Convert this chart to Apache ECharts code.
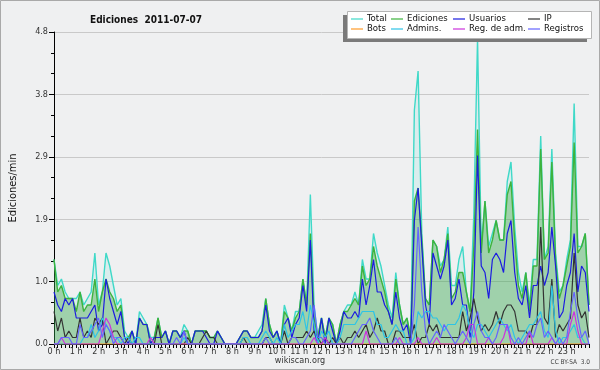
<!DOCTYPE html>
<html><head><meta charset="utf-8">
<script src="https://cdn.jsdelivr.net/npm/echarts@6/dist/echarts.min.js"></script>
<style>html,body{margin:0;padding:0;background:#eff0f1}#c{width:600px;height:370px}</style>
</head><body><div id="c"></div>
<script>
// ---- data (edits per minute, 10-minute buckets from 00:00 to 24:00) ----
const hourLabels = ['0 h','1 h','2 h','3 h','4 h','5 h','6 h','7 h','8 h','9 h','10 h','11 h','12 h','13 h','14 h','15 h','16 h','17 h','18 h','19 h','20 h','21 h','22 h','23 h'];
const seriesNames = ['Total','Ediciones','Usuarios','IP','Bots','Admins.','Reg. de adm.','Registros'];

const total = [
 1.3,0.9,1.0,0.8,0.7,0.7, 0.7,0.8,0.6,0.7,0.8,1.4, 0.6,0.8,1.4,1.2,0.9,0.6, 0.7,0.2,0.1,0.2,0.0,0.5,
 0.4,0.3,0.1,0.1,0.4,0.1, 0.2,0.0,0.2,0.2,0.1,0.3, 0.2,0.0,0.2,0.2,0.2,0.2, 0.1,0.1,0.2,0.1,0.0,0.0,
 0.0,0.0,0.1,0.2,0.2,0.1, 0.1,0.2,0.3,0.7,0.3,0.1, 0.2,0.0,0.6,0.4,0.2,0.5, 0.5,1.0,0.6,2.3,0.6,0.1,
 0.4,0.1,0.4,0.3,0.0,0.3, 0.5,0.6,0.6,0.8,0.6,1.3, 1.0,1.0,1.7,1.4,1.2,0.9, 0.6,0.4,1.1,0.6,0.3,0.4,
 0.1,3.6,4.2,1.7,0.7,0.6, 1.6,1.5,1.2,1.3,1.8,0.9, 0.9,1.3,1.5,0.8,0.5,2.0, 4.7,1.5,2.2,1.5,1.7,1.9,
 1.6,1.6,2.5,2.8,1.8,1.1, 0.8,1.1,0.6,1.3,1.3,3.2, 1.3,1.5,3.0,1.4,0.8,0.9, 1.3,1.6,3.7,1.5,1.5,1.7,
 0.6];
const ediciones = [
 1.3,0.8,0.9,0.7,0.7,0.7, 0.5,0.8,0.5,0.6,0.6,1.0, 0.5,0.8,1.0,0.8,0.7,0.5, 0.6,0.1,0.1,0.2,0.0,0.4,
 0.3,0.3,0.0,0.1,0.4,0.1, 0.2,0.0,0.2,0.2,0.1,0.2, 0.2,0.0,0.2,0.2,0.2,0.2, 0.1,0.1,0.2,0.1,0.0,0.0,
 0.0,0.0,0.1,0.2,0.2,0.1, 0.1,0.1,0.2,0.7,0.3,0.1, 0.2,0.0,0.5,0.4,0.2,0.4, 0.5,1.0,0.6,1.7,0.4,0.1,
 0.4,0.1,0.4,0.3,0.0,0.3, 0.5,0.5,0.6,0.7,0.6,1.2, 0.9,1.0,1.5,1.2,1.0,0.8, 0.5,0.3,1.0,0.6,0.3,0.4,
 0.1,2.2,2.4,1.6,0.7,0.6, 1.6,1.5,1.1,1.3,1.7,0.7, 0.8,1.1,1.1,0.8,0.5,1.5, 3.3,1.4,2.2,1.4,1.6,1.9,
 1.6,1.6,2.3,2.5,1.6,0.9, 0.7,1.1,0.5,1.2,1.2,3.0, 1.3,1.4,2.8,1.3,0.7,0.9, 1.2,1.5,3.1,1.4,1.5,1.7,
 0.6];
const usuarios = [
 0.8,0.6,0.5,0.7,0.6,0.7, 0.4,0.4,0.4,0.4,0.5,0.6, 0.2,0.3,1.0,0.7,0.5,0.3, 0.5,0.1,0.0,0.2,0.0,0.4,
 0.3,0.3,0.0,0.1,0.1,0.1, 0.2,0.0,0.2,0.2,0.1,0.2, 0.0,0.0,0.2,0.2,0.2,0.1, 0.0,0.0,0.2,0.1,0.0,0.0,
 0.0,0.0,0.1,0.2,0.2,0.1, 0.1,0.1,0.2,0.6,0.2,0.1, 0.2,0.0,0.3,0.4,0.1,0.3, 0.4,0.9,0.5,1.6,0.2,0.0,
 0.4,0.0,0.4,0.2,0.0,0.2, 0.5,0.4,0.4,0.5,0.4,1.0, 0.6,0.9,1.3,0.8,0.8,0.6, 0.5,0.3,0.8,0.4,0.2,0.3,
 0.0,1.9,2.4,1.5,0.6,0.3, 1.4,1.2,1.0,1.2,1.6,0.6, 0.7,1.0,0.6,0.6,0.1,0.8, 2.9,1.2,1.1,0.7,1.3,1.4,
 1.3,1.1,1.7,1.9,1.1,0.7, 0.6,0.9,0.4,0.9,0.9,1.2, 0.9,1.1,1.8,1.2,0.4,0.5, 0.9,1.1,1.7,0.8,1.2,1.1,
 0.5];
const ip = [
 0.5,0.2,0.4,0.1,0.2,0.1, 0.1,0.4,0.1,0.2,0.1,0.4, 0.3,0.4,0.0,0.1,0.2,0.2, 0.1,0.0,0.1,0.0,0.0,0.0,
 0.0,0.0,0.0,0.0,0.3,0.0, 0.0,0.0,0.0,0.0,0.0,0.0, 0.1,0.0,0.0,0.0,0.1,0.2, 0.1,0.1,0.0,0.0,0.0,0.0,
 0.0,0.0,0.0,0.1,0.0,0.0, 0.0,0.0,0.0,0.1,0.1,0.0, 0.0,0.0,0.2,0.0,0.1,0.1, 0.1,0.1,0.2,0.1,0.2,0.1,
 0.0,0.1,0.0,0.1,0.0,0.1, 0.0,0.1,0.1,0.2,0.1,0.2, 0.3,0.1,0.2,0.4,0.2,0.2, 0.0,0.0,0.2,0.2,0.1,0.1,
 0.1,0.3,0.0,0.1,0.1,0.3, 0.2,0.3,0.1,0.1,0.1,0.1, 0.1,0.1,0.5,0.2,0.4,0.7, 0.4,0.2,0.3,0.2,0.3,0.5,
 0.3,0.5,0.6,0.6,0.5,0.2, 0.2,0.2,0.1,0.3,0.3,1.8, 0.4,0.3,1.0,0.1,0.3,0.2, 0.3,0.4,1.4,0.6,0.4,0.5,
 0.1];
const bots = [
 0,0,0,0,0,0, 0,0,0,0,0,0, 0,0,0,0,0,0, 0,0,0,0,0,0,
 0,0,0,0,0,0, 0,0,0,0,0,0, 0,0,0,0,0,0, 0,0,0,0,0,0,
 0,0,0,0,0,0, 0,0,0,0,0,0, 0,0,0,0,0,0, 0,0,0,0,0,0,
 0,0,0,0,0,0, 0,0,0,0,0,0, 0,0,0,0,0,0, 0,0,0,0,0,0,
 0,0,0,0,0,0, 0,0,0,0,0,0, 0,0,0,0,0,0, 0,0,0,0,0,0,
 0,0,0,0,0,0, 0,0,0,0,0,0, 0,0,0,0,0,0, 0,0,0,0,0,0,
 0];
const admins = [
 0,0,0,0,0,0, 0,0,0.1,0.1,0.3,0.1, 0.2,0.4,0.3,0.2,0.1,0.1, 0,0.1,0.1,0,0.1,0.1,
 0,0,0,0,0,0, 0,0,0,0,0,0.1, 0,0,0,0,0,0, 0,0,0,0,0,0,
 0,0,0,0.1,0.1,0, 0,0,0.1,0.2,0.1,0, 0.1,0,0.3,0.1,0.2,0.3, 0.3,0.5,0.2,0.6,0.3,0,
 0.2,0.1,0.2,0,0,0.1, 0.3,0.3,0.3,0.3,0.4,0.5, 0.5,0.5,0.5,0.3,0.3,0.1, 0.1,0.2,0.3,0.2,0.2,0,
 0,0.1,0.5,0.4,0.5,0.5, 0.4,0.4,0.3,0.2,0.3,0.3, 0.3,0.4,0.6,0.5,0.2,0.1, 0.3,0.3,0.2,0.1,0.2,0.3,
 0.4,0.3,0.2,0.3,0.1,0, 0.1,0.2,0.3,0.3,0.4,0.5, 0.2,0.1,0.9,0.2,0,0.1, 0.1,0.2,0.3,0.1,0.1,0,
 0];
const regAdm = [
 0,0,0.1,0,0,0, 0,0,0,0,0,0, 0,0.2,0.4,0.3,0.1,0, 0,0,0,0,0,0,
 0,0,0.1,0,0,0, 0,0,0,0,0,0, 0,0,0,0,0,0, 0,0,0,0,0,0,
 0,0,0,0,0,0, 0,0,0,0,0,0, 0,0,0,0,0,0, 0,0,0,0,0.1,0,
 0,0.1,0,0,0,0, 0,0,0,0,0,0, 0.2,0,0,0,0,0, 0,0,0,0.1,0,0,
 0,0,0.1,0,0,0, 0,0.1,0,0,0,0, 0,0,0,0.1,0.3,0.3, 0,0,0,0.1,0,0,
 0,0.1,0.3,0,0,0, 0,0,0.2,0,0,0, 0,0,0.1,0,0,0, 0,0.3,0.5,0.2,0,0,
 0];
const registros = [
 0,0,0.1,0.1,0.1,0, 0,0.3,0.1,0.1,0.2,0.3, 0.4,0.1,0.3,0.2,0,0.1, 0.1,0,0,0,0,0,
 0,0,0,0,0,0, 0,0,0,0.1,0,0.2, 0,0,0,0,0,0, 0,0,0,0,0,0,
 0,0,0,0,0,0, 0,0,0,0.1,0,0, 0,0,0,0,0.1,0.1, 0,0,0.1,0.2,0.6,0.1,
 0.1,0,0,0,0,0, 0,0,0,0.1,0.2,0.3, 0.3,0.4,0.2,0.1,0,0, 0,0,0.1,0,0,0,
 0,0.6,1.8,0.8,0.2,0, 0.1,0.2,0.1,0.3,0.2,0.1, 0,0.1,0.2,0.1,0,0.3, 0.5,0.2,0.1,0.1,0,0.1,
 0.3,0.3,0.3,0.1,0,0.1, 0,0.1,0.2,0.1,0.3,0.4, 0.1,0.2,0.1,0,0.1,0, 0.1,0.5,0.8,0.4,0.1,0.2,
 0];

const seriesValues = [total, ediciones, usuarios, ip, bots, admins, regAdm, registros];
const colors = ['#3fd9c8','#3db33d','#1c1ce0','#333333','#ff9c2a','#2ec4e6','#cc33dd','#6464ff'];

// ---- chart ----
const FONT = 'DejaVu Sans Condensed, DejaVu Sans, sans-serif';
const chart = echarts.init(document.getElementById('c'), null, {renderer:'canvas'});
const stepHours = 1/6;
const series = seriesValues.map((vals, k) => ({
  name: seriesNames[k], type:'line', symbol:'none', animation:false,
  data: vals.map((v, i) => [i*stepHours, v]),
  lineStyle:{color:colors[k], width: k < 2 ? 1.4 : 1.2},
  itemStyle:{color:colors[k]},
  areaStyle: k === 0 ? {color:'rgba(64,224,208,0.16)', origin:'start'} :
             k === 1 ? {color:'rgba(50,160,50,0.5)', origin:'start'} : undefined,
  z: 2 + k
}));

const legendPos = [[351,14],[391,14],[453,14],[528,14],[351,24],[391,24],[453,24],[528,24]];
const legends = seriesNames.map((n, k) => ({
  left: legendPos[k][0], top: legendPos[k][1], data:[n], icon:'rect',
  itemWidth:12, itemHeight:1.2, padding:0, itemGap:0, selectedMode:false, z:20,
  textStyle:{fontSize:9.5, fontFamily:FONT, color:'#111', padding:[0,0,0,-1]}
}));

chart.setOption({
  backgroundColor:'#eff0f1',
  animation:false,
  title:{text:'Ediciones  2011-07-07', left:85, top:10,
    textStyle:{fontSize:10, fontWeight:'bold', fontFamily:FONT, color:'#111'}},
  legend: legends,
  grid:{left:44, right:11, top:32, bottom:26},
  xAxis:{type:'value', min:0, max:24, interval:1,
    axisLine:{lineStyle:{color:'#000', width:1}},
    axisTick:{length:4, lineStyle:{color:'#000'}},
    minorTick:{show:true, splitNumber:6, length:4, lineStyle:{color:'#000'}},
    splitLine:{show:false},
    axisLabel:{fontSize:9, fontFamily:FONT, color:'#333', margin:3,
      formatter: v => hourLabels[v] !== undefined ? hourLabels[v] : ''}},
  yAxis:{type:'value', min:0, max:4.8, interval:0.96,
    name:'Ediciones/min', nameLocation:'middle', nameGap:35,
    nameTextStyle:{fontSize:11, fontFamily:FONT, color:'#111'},
    axisLine:{show:true, lineStyle:{color:'#000', width:1}},
    axisTick:{show:true, length:5, lineStyle:{color:'#000'}},
    minorTick:{show:true, splitNumber:3, length:3, lineStyle:{color:'#000'}},
    splitLine:{show:true, lineStyle:{color:'#c9c9c9', width:1}},
    axisLabel:{fontSize:9, fontFamily:FONT, color:'#333', margin:6,
      formatter: v => v.toFixed(1)}},
  graphic:[
    {type:'rect', shape:{x:0.5, y:0.5, width:599, height:369}, style:{fill:null, stroke:'#a9a9a9', lineWidth:1}, z:30, silent:true},
    {type:'rect', shape:{x:343, y:15, width:244, height:27}, style:{fill:'#7a7a7a'}, z:15, silent:true},
    {type:'rect', shape:{x:347.5, y:11.5, width:244, height:27}, style:{fill:'#ffffff', stroke:'#b5b5b5', lineWidth:1}, z:16, silent:true},
    {type:'text', x:300, y:361, style:{text:'wikiscan.org', align:'center', verticalAlign:'middle', font:'9px DejaVu Sans Condensed, DejaVu Sans', fill:'#333'}, z:30},
    {type:'text', x:590, y:362, style:{text:'CC BY-SA  3.0', align:'right', verticalAlign:'middle', font:'6.5px DejaVu Sans Condensed, DejaVu Sans', fill:'#444'}, z:30}
  ],
  series: series
});
</script></body></html>
